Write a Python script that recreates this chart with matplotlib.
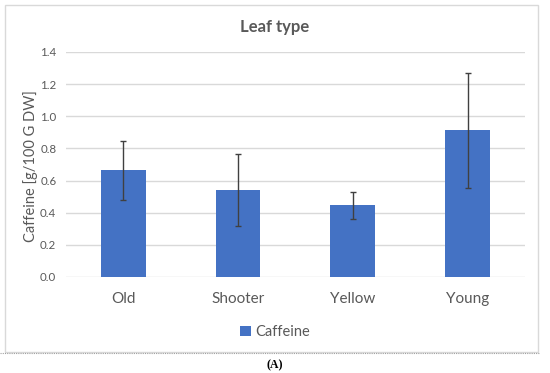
import matplotlib.pyplot as plt
from matplotlib.patches import Rectangle
from matplotlib.lines import Line2D

# dados
categorias = ['Old', 'Shooter', 'Yellow', 'Young']
cafeina = [0.665, 0.54, 0.445, 0.912]
erro = [0.183, 0.225, 0.083, 0.357]

plt.rcParams['font.family'] = ['Lato', 'DejaVu Sans']
cinza = '#595959'

fig = plt.figure(figsize=(5.5, 3.73), dpi=100)
ax = fig.add_axes([0.12, 0.2574, 0.8345, 0.6032])

ax.bar(categorias, cafeina, width=0.39, color='#4472C4', yerr=erro,
       error_kw=dict(ecolor='#404040', elinewidth=1, capsize=2.5, capthick=1),
       label='Caffeine', zorder=3)

ax.set_ylim(0, 1.4)
ax.set_xlim(-0.5, 3.5)
ax.set_yticks([0, 0.2, 0.4, 0.6, 0.8, 1.0, 1.2, 1.4])
ax.set_yticklabels(['0.0', '0.2', '0.4', '0.6', '0.8', '1.0', '1.2', '1.4'])
ax.grid(axis='y', color='#D9D9D9', linewidth=1, zorder=0)
for s in ax.spines.values():
    s.set_visible(False)
ax.tick_params(axis='y', length=0, pad=7, labelsize=8.3, labelcolor=cinza)
ax.tick_params(axis='x', length=0, pad=11, labelsize=11, labelcolor=cinza)

fig.text(0.5, 0.927, 'Leaf type', ha='center', va='center', fontsize=12,
         fontweight='bold', color=cinza)
fig.text(0.055, 0.555, 'Caffeine [g/100 G DW]', rotation=90, ha='center',
         va='center', fontsize=10.5, color=cinza)

fig.legend(loc='center', bbox_to_anchor=(0.5, 1 - 332 / 373), frameon=False,
           fontsize=10.5, labelcolor=cinza, handlelength=0.7, handleheight=0.7,
           handletextpad=0.3)

# moldura do gráfico e legenda da figura
fig.patches.append(Rectangle((5 / 550, 1 - 352 / 373), 533 / 550, 347 / 373,
                             transform=fig.transFigure, fill=False,
                             edgecolor='#D9D9D9', linewidth=1))
fig.lines.append(Line2D([0, 540 / 550], [1 - 353 / 373] * 2, transform=fig.transFigure,
                        color='#A0A0A0', linewidth=0.8, linestyle=(0, (1, 1))))
fig.text(0.5, 1 - 365 / 373, '(A)', ha='center', va='center', fontsize=8.5,
         fontweight='bold', family='Liberation Serif', color='black')

fig.savefig('out.png', dpi=100)
